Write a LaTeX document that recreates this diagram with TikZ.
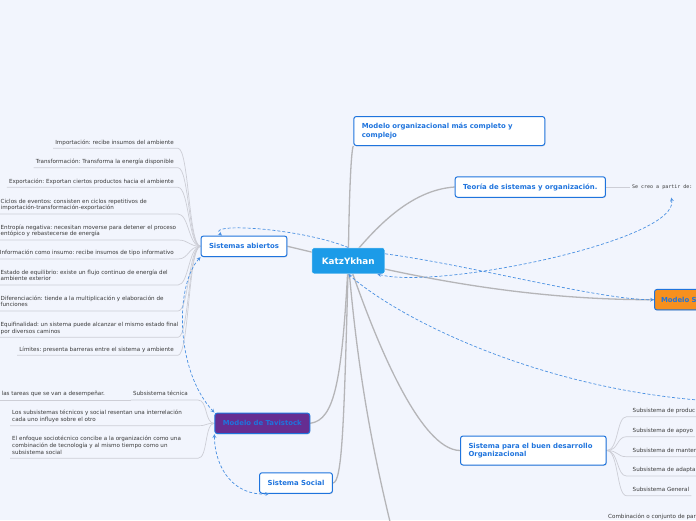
\documentclass[tikz,border=0pt]{standalone}
\usepackage{fontspec}
\setmainfont{DejaVu Sans}
\newfontfamily\monofont{DejaVu Sans Mono}
\usetikzlibrary{positioning, arrows, backgrounds, shadows}
\frenchspacing

\definecolor{bgcol}{HTML}{F2F5FD}
\definecolor{rootblue}{HTML}{1C9BE8}
\definecolor{topicblue}{HTML}{1F74DD}
\definecolor{branchgray}{HTML}{B5B5B8}
\definecolor{twiggray}{HTML}{CDCED6}
\definecolor{leafgray}{HTML}{3A3A3A}
\definecolor{linkblue}{HTML}{4A90E2}
\definecolor{tavpurple}{HTML}{662D91}
\definecolor{sorange}{HTML}{F7901E}

\tikzstyle{root} = [
    rectangle,
    rounded corners=2pt,
    fill=rootblue,
    draw=white,
    line width=0.6pt,
    text=white,
    font=\bfseries\fontsize{8.8}{10}\selectfont,
    minimum width=73pt,
    minimum height=26pt,
    inner sep=0pt
]
\tikzstyle{topic} = [
    rectangle,
    rounded corners=2.5pt,
    draw=topicblue,
    line width=1pt,
    fill=white,
    text=topicblue,
    font=\bfseries\fontsize{6.9}{8.3}\selectfont,
    inner xsep=8pt,
    inner ysep=0pt,
    minimum height=20.5pt,
    align=left,
    drop shadow={shadow xshift=0.6pt, shadow yshift=-0.9pt, opacity=0.18}
]
\tikzstyle{leaf} = [
    font=\fontsize{5.6}{6.8}\selectfont,
    text=leafgray,
    inner xsep=2pt,
    inner ysep=1.8pt,
    align=left,
    execute at end node={\strut}
]
\tikzstyle{branch} = [draw=branchgray, line width=1.3pt]
\tikzstyle{twig} = [draw=twiggray, line width=0.7pt]
\tikzstyle{link} = [draw=linkblue, line width=0.7pt, dash pattern=on 3pt off 2pt, >=stealth]

\begin{document}
\begin{tikzpicture}[x=1pt, y=-1pt]

\useasboundingbox (0,0) rectangle (696,520);

\node (katz) [root] at (348.3,260.8) {KatzYkhan};

\node (modorg) [topic, anchor=north west, text width=175pt, minimum height=29pt] at (353.3,116)
{Modelo organizacional más completo y\\complejo};

\node (teoria) [topic] at (530.3,187) {Teoría de sistemas y organización.};

\node (secreo) [right=24pt of teoria, font=\monofont\fontsize{5}{6}\selectfont, text=leafgray, inner sep=2pt]
{Se creo a partir de:};

\node (models) [topic, fill=sorange, anchor=west, text width=64pt, inner xsep=6.5pt] at (654,299.7) {Modelo S};

\node (abiertos) [topic] at (244,246.3) {Sistemas abiertos};

\node (tav) [topic, fill=tavpurple] at (262.3,423.3) {Modelo de Tavistock};

\node (social) [topic] at (296,483) {Sistema Social};

\node (des) [topic, anchor=west, text width=129.7pt, minimum height=29pt] at (460,450.5)
{Sistema para el buen desarrollo\\Organizacional};

\coordinate (offright) at (730,402);
\coordinate (bottomend) at (392,530);
\coordinate (abcol) at (178,0);
\coordinate (tavcol) at (198,0);

% hojas de Sistemas abiertos
\node (imp) [leaf, anchor=south east] at (176,148.3) {Importación: recibe insumos del ambiente};
\node (tra) [leaf, anchor=south east] at (176,167.7) {Transformación: Transforma la energía disponible};
\node (exp) [leaf, anchor=south east] at (176,187.3) {Exportación: Exportan ciertos productos hacia el ambiente};
\node (cic) [leaf, anchor=south west] at (-1.5,214)
{Ciclos de eventos: consisten en ciclos repetitivos de\\importación-transformación-exportación};
\node (ent) [leaf, anchor=south west] at (-1.5,240)
{Entropía negativa: necesitan moverse para detener el proceso\\entópico y rebastecerse de energía};
\node (inf) [leaf, anchor=south east] at (176,259) {Información como insumo: recibe insumos de tipo informativo};
\node (equ) [leaf, anchor=south west] at (-1.5,285)
{Estado de equilibrio: existe un flujo continuo de energía del\\ambiente exterior};
\node (dif) [leaf, anchor=south west] at (-1.5,311)
{Diferenciación: tiende a la multiplicación y elaboración de\\funciones};
\node (fin) [leaf, anchor=south west] at (-1.5,337.3)
{Equifinalidad: un sistema puede alcanzar el mismo estado final\\por diversos caminos};
\node (lim) [leaf, anchor=south east] at (176,355.3) {Límites: presenta barreras entre el sistema y ambiente};

% hojas de Tavistock
\node (subtec) [leaf, anchor=south east] at (190,400) {Subsistema técnica};
\node (tareas) [leaf, anchor=south west] at (-0.5,400) {las tareas que se van a desempeñar.};
\node (inter) [leaf, anchor=south west] at (10,425.7)
{Los subsistemas técnicos y social resentan una interrelación\\cada uno influye sobre el otro};
\node (enfo) [leaf, anchor=south west] at (10,458.3)
{El enfoque sociotécnico concibe a la organización como una\\combinación de tecnología y al mismo tiempo como un\\subsistema social};

% hojas del buen desarrollo
\node (prod) [leaf, anchor=south west] at (630.5,416.7) {Subsistema de produc};
\node (apo) [leaf, anchor=south west] at (630.5,436.7) {Subsistema de apoyo};
\node (man) [leaf, anchor=south west] at (630.5,456.7) {Subsistema de manten};
\node (ada) [leaf, anchor=south west] at (630.5,476) {Subsistema de adapta};
\node (gen) [leaf, anchor=south west] at (630.5,495.7) {Subsistema General};

\node (comb) [leaf, anchor=south west] at (606,523) {Combinación o conjunto de par};

\begin{scope}[on background layer]
\fill[bgcol] (0,0) rectangle (696,520);

\draw [branch] (katz.center) .. controls (349,200) and (351,150) .. (modorg.south west);
\draw [branch] (katz.center) .. controls (375,228) and (410,190) .. (teoria.west);
\draw [branch] (katz.center) .. controls (450,285) and (550,300) .. (models.west);
\draw [branch] (katz.center) -- (abiertos.east);
\draw [branch] (katz.center) .. controls (342,380) and (335,420) .. (tav.east);
\draw [branch] (katz.center) .. controls (344,430) and (342,482) .. (social.east);
\draw [branch] (katz.center) .. controls (375,340) and (420,450) .. (des.west);
\draw [branch] (katz.center) .. controls (358,380) and (375,460) .. (bottomend);

\draw [twig] (teoria.east) -- (secreo.west);

\foreach \n in {imp,tra,exp,cic,ent,inf,equ,dif,fin,lim}
    \draw [twig] (\n.south west) -- (\n.south west -| abcol) .. controls +(11,0) and +(-12,0) .. (abiertos.west);

\foreach \n in {subtec,inter,enfo}
    \draw [twig] (\n.south west) -- (\n.south west -| tavcol) .. controls +(10,0) and +(-10,0) .. (tav.west);
\draw [twig] (tareas.south west) -- (subtec.south west);

\foreach \n in {prod,apo,man,ada,gen}
    \draw [twig] (des.east) .. controls +(12,0) and +(-10,0) .. ([xshift=-4pt]\n.south west) -- (\n.south east);
\end{scope}

% conexiones punteadas
\draw [link, ->] (katz.north) .. controls (300,228) and (205,222) .. ([xshift=-22pt]abiertos.north);
\draw [link, ->] ([yshift=7pt]katz.east) .. controls (470,265) and (600,300) .. (models.west);
\draw [link, <->] ([xshift=29pt]katz.south) .. controls (440,290) and (680,240) .. ([xshift=9pt,yshift=-6pt]secreo.south);
\draw [link, ->] (offright) .. controls (550,395) and (400,320) .. (katz.south);
\draw [link, <->] (abiertos.south west) .. controls (175,285) and (175,370) .. (tav.north west);
\draw [link, <->] (tav.south west) .. controls (215,470) and (235,496) .. ([xshift=10pt]social.south west);

\end{tikzpicture}
\end{document}
